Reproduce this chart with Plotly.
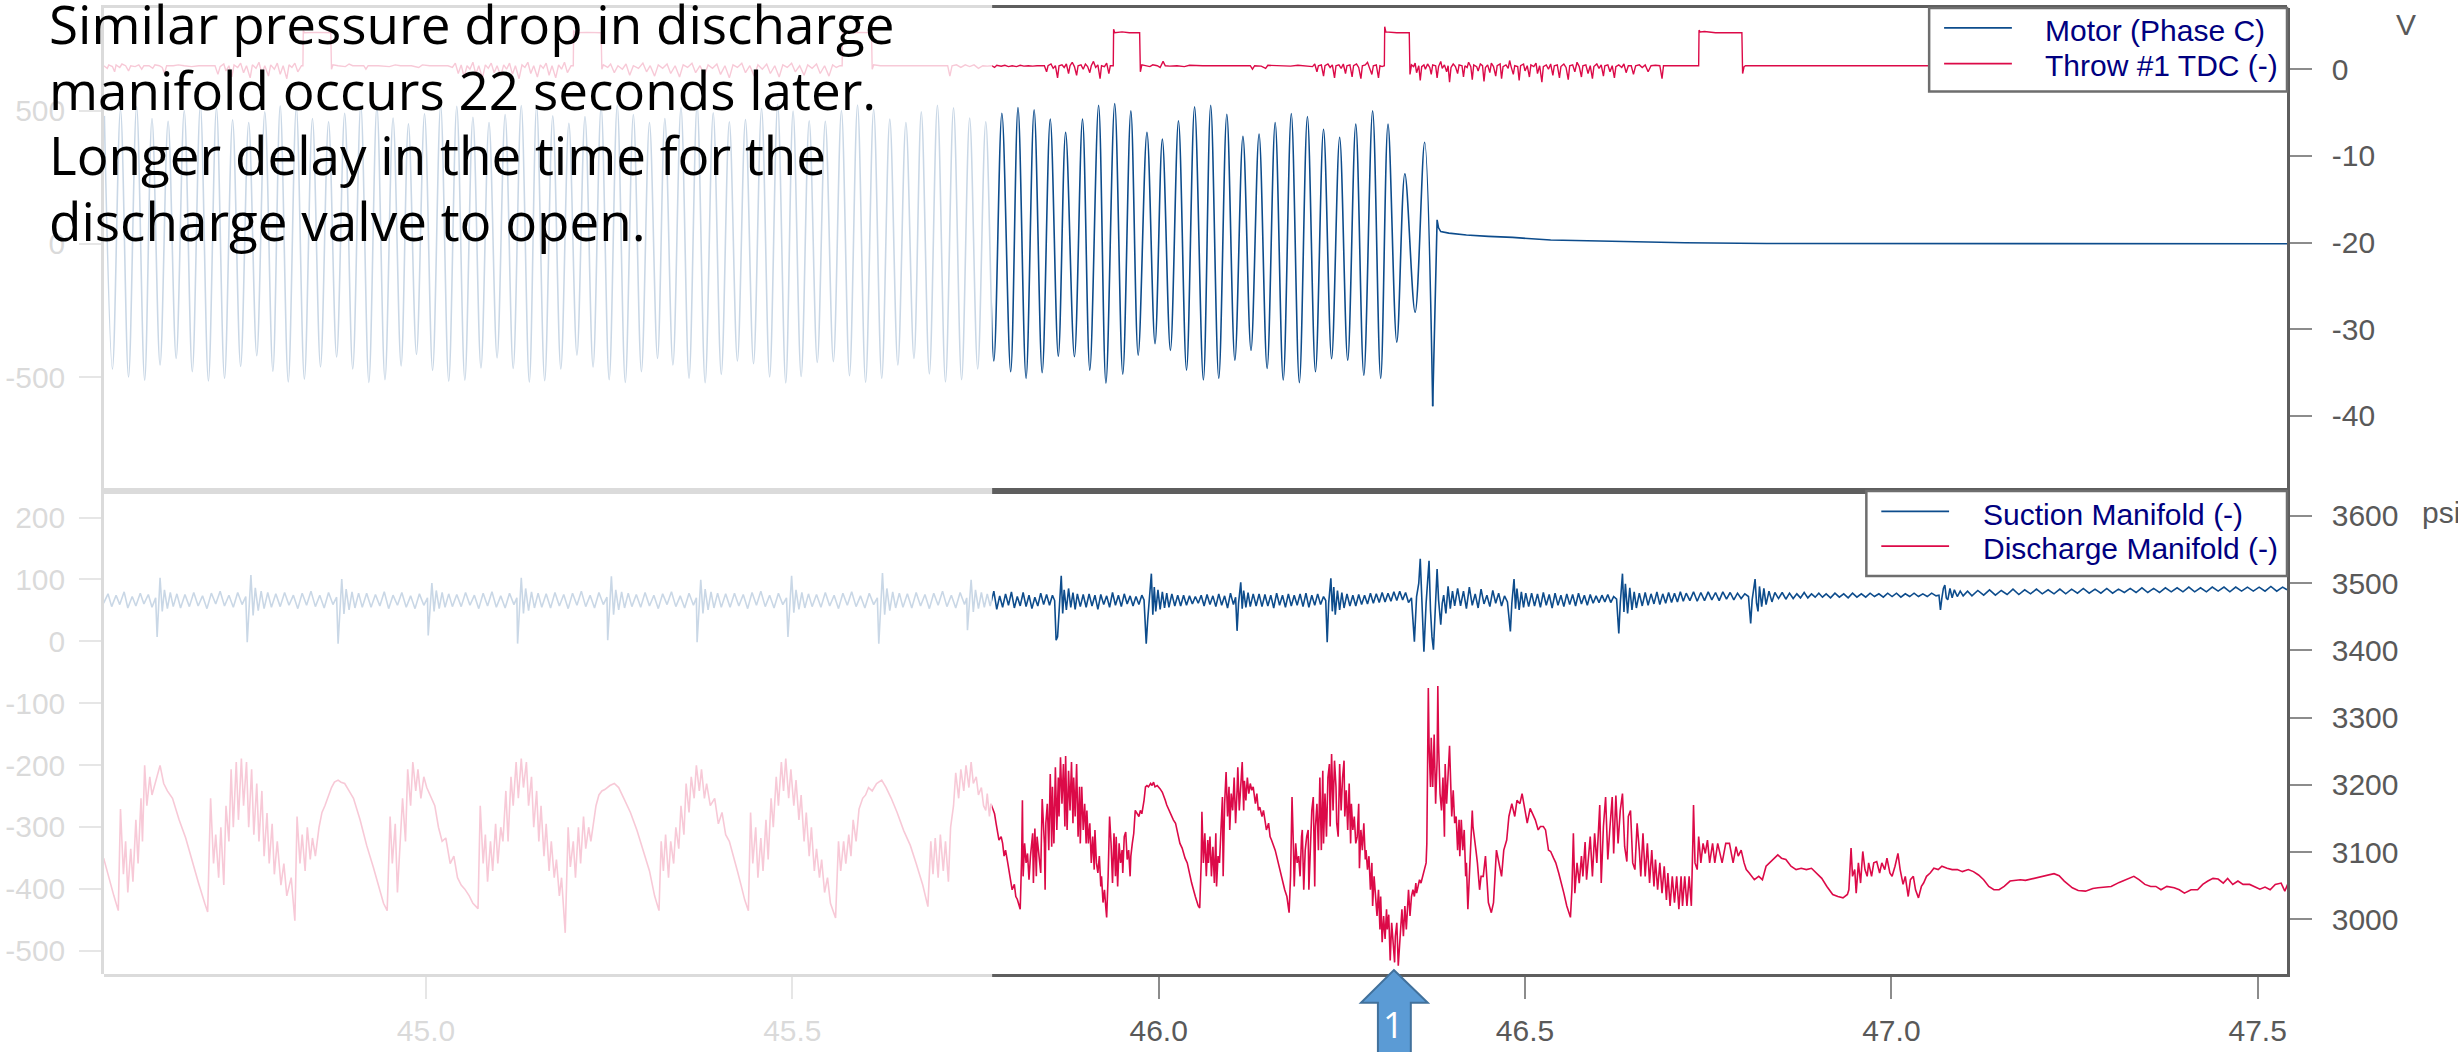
import plotly.graph_objects as go

# ------------------------------------------------------------------ data
x_tick_vals = [45.0, 45.5, 46.0, 46.5, 47.0, 47.5]
x_tick_text = ["45.0", "45.5", "46.0", "46.5", "47.0", "47.5"]
motor_tick_vals = [500, 0, -500]
volt_tick_vals = [0, -10, -20, -30, -40]
left_p_tick_vals = [200, 100, 0, -100, -200, -300, -400, -500]
psi_tick_vals = [3600, 3500, 3400, 3300, 3200, 3100, 3000]

series_names = ["Motor (Phase C)", "Throw #1 TDC (-)", "Suction Manifold (-)", "Discharge Manifold (-)"]

note_lines = ["Similar pressure drop in discharge",
              "manifold occurs 22 seconds later.",
              "Longer delay in the time for the",
              "discharge valve to open."]

# Motor (Phase C): oscillation extrema (time s, value)
motor_peaks = [
    (44.561, 480), (44.583, 505), (44.605, 515), (44.626, 470), (44.648, 460), (44.670, 500),
    (44.692, 520), (44.714, 510), (44.736, 465), (44.758, 455), (44.780, 495), (44.801, 518),
    (44.823, 512), (44.845, 470), (44.867, 458), (44.889, 490), (44.911, 522), (44.933, 515),
    (44.955, 472), (44.976, 450), (44.998, 488), (45.020, 520), (45.042, 516), (45.064, 475),
    (45.086, 455), (45.108, 485), (45.130, 519), (45.151, 518), (45.173, 480), (45.195, 452),
    (45.217, 478), (45.239, 515), (45.261, 520), (45.283, 485), (45.305, 455), (45.326, 470),
    (45.348, 512), (45.370, 522), (45.392, 492), (45.414, 458), (45.436, 466), (45.458, 508),
    (45.480, 523), (45.501, 498), (45.523, 462), (45.545, 460), (45.567, 500), (45.589, 521),
    (45.611, 505), (45.633, 468), (45.655, 455), (45.676, 495), (45.698, 520), (45.720, 510),
    (45.742, 472), (45.764, 458), (45.786, 490),
    (45.808, 511), (45.830, 503), (45.852, 468), (45.873, 418), (45.896, 468), (45.918, 520),
    (45.940, 526), (45.962, 499), (45.984, 418), (46.005, 393), (46.027, 462), (46.049, 514),
    (46.071, 520), (46.093, 486), (46.115, 403), (46.137, 412), (46.159, 455), (46.181, 489),
    (46.203, 478), (46.225, 430), (46.247, 400), (46.269, 449), (46.292, 499), (46.313, 449),
    (46.336, 263), (46.363, 381)]
motor_troughs = [
    (44.572, -470), (44.594, -500), (44.616, -512), (44.637, -455), (44.659, -430), (44.681, -480),
    (44.703, -515), (44.725, -505), (44.747, -460), (44.769, -420), (44.791, -478), (44.812, -518),
    (44.834, -508), (44.856, -462), (44.878, -425), (44.900, -470), (44.922, -520), (44.944, -510),
    (44.966, -458), (44.987, -415), (45.009, -475), (45.031, -516), (45.053, -512), (45.075, -466),
    (45.097, -428), (45.119, -468), (45.141, -519), (45.162, -514), (45.184, -470), (45.206, -418),
    (45.228, -462), (45.250, -510), (45.272, -520), (45.294, -480), (45.316, -430), (45.337, -455),
    (45.359, -505), (45.381, -521), (45.403, -490), (45.425, -440), (45.447, -450), (45.469, -500),
    (45.491, -522), (45.512, -498), (45.534, -445), (45.556, -442), (45.578, -495), (45.600, -520),
    (45.622, -505), (45.644, -455), (45.666, -430), (45.687, -488), (45.709, -518), (45.731, -510),
    (45.753, -470), (45.775, -440),
    (45.798, -480), (45.819, -505), (45.841, -484), (45.863, -422), (45.885, -424), (45.906, -474),
    (45.928, -523), (45.951, -489), (45.972, -418), (45.995, -375), (46.016, -400), (46.038, -474),
    (46.061, -511), (46.082, -505), (46.104, -437), (46.126, -400), (46.148, -468), (46.170, -511),
    (46.192, -521), (46.214, -480), (46.236, -431), (46.258, -437), (46.280, -493), (46.303, -505),
    (46.325, -369), (46.350, -257), (46.374, -610)]
motor_tail = [
    (46.374, -610), (46.380, 90), (46.382, 60), (46.385, 46), (46.396, 40), (46.420, 33),
    (46.450, 28), (46.483, 24), (46.535, 14), (46.613, 9), (46.718, 4), (46.830, 1),
    (47.000, 0.5), (47.540, 0)]

# Throw #1 TDC (V)
tdc_pts = [
    (44.560, 0.4), (44.565, 0.1), (44.567, 0.5), (44.572, 0.3), (44.575, -0.3), (44.577, 0.5),
    (44.582, 0.2), (44.585, 0.6), (44.590, 0.4), (44.594, -0.2), (44.597, 0.4), (44.603, 0.3),
    (44.608, 0.5), (44.612, 0.0), (44.615, 0.4), (44.622, 0.4), (44.627, 0.1), (44.630, 0.5),
    (44.636, 0.4), (44.640, 0.2), (44.643, -0.5), (44.646, 0.4), (44.655, 0.4), (44.662, 0.5),
    (44.670, 0.4), (44.680, 0.3), (44.690, 0.4), (44.700, 0.4), (44.712, 0.4), (44.716, -0.6),
    (44.719, 0.3), (44.724, 0.6), (44.727, -0.2), (44.731, 0.4), (44.735, -0.9), (44.738, 0.5),
    (44.743, 0.2), (44.747, 0.7), (44.751, -0.4), (44.755, 0.4), (44.760, -1.0), (44.763, 0.5),
    (44.768, 0.1), (44.772, 0.8), (44.776, -0.5), (44.780, 0.4), (44.785, -0.8), (44.788, 0.5),
    (44.793, 0.0), (44.797, 0.7), (44.801, -0.6), (44.805, 0.4), (44.810, -1.1), (44.813, 0.5),
    (44.817, 0.2), (44.821, 0.7), (44.825, -0.3), (44.830, 0.4),
    (44.832, 0.4), (44.8325, 4.5), (44.834, 4.2), (44.850, 4.25), (44.870, 4.2), (44.871, 0.0),
    (44.873, 0.5), (44.880, 0.4), (44.890, 0.3), (44.895, 0.6), (44.900, 0.4), (44.915, 0.4),
    (44.918, 0.0), (44.921, 0.4), (44.935, 0.4), (44.950, 0.3), (44.958, 0.5), (44.965, 0.4),
    (44.980, 0.4), (44.990, 0.2), (44.995, 0.5), (45.005, 0.4), (45.020, 0.4), (45.030, 0.4),
    (45.036, 0.2), (45.040, 0.7), (45.044, -0.5), (45.048, 0.5), (45.052, -0.9), (45.056, 0.4),
    (45.060, 0.0), (45.064, 0.8), (45.068, -0.6), (45.072, 0.4), (45.077, -1.0), (45.081, 0.5),
    (45.085, 0.1), (45.089, 0.7), (45.093, -0.4), (45.097, 0.4), (45.102, -0.8), (45.106, 0.5),
    (45.110, 0.0), (45.114, 0.7), (45.118, -0.6), (45.122, 0.4), (45.127, -1.1), (45.131, 0.5),
    (45.135, 0.2), (45.139, 0.8), (45.143, -0.5), (45.147, 0.4), (45.152, -0.9), (45.156, 0.5),
    (45.160, 0.1), (45.164, 0.7), (45.168, -0.7), (45.172, 0.4), (45.177, -1.0), (45.181, 0.5),
    (45.185, 0.0), (45.189, 0.8), (45.193, -0.4), (45.198, 0.4),
    (45.201, 0.4), (45.2015, 4.5), (45.203, 4.2), (45.220, 4.25), (45.239, 4.2), (45.240, 0.0),
    (45.242, 0.5), (45.248, 0.2), (45.252, 0.6), (45.257, -0.4), (45.262, 0.4), (45.268, 0.0),
    (45.273, 0.6), (45.278, -0.7), (45.283, 0.4), (45.290, 0.1), (45.296, 0.7), (45.301, -0.3),
    (45.306, 0.4), (45.312, -0.8), (45.317, 0.5), (45.323, 0.1), (45.329, 0.6), (45.334, -0.5),
    (45.340, 0.4), (45.346, -0.9), (45.351, 0.5), (45.357, 0.2), (45.363, 0.7), (45.368, -0.4),
    (45.374, 0.4), (45.380, -0.7), (45.385, 0.5), (45.391, 0.1), (45.397, 0.6), (45.402, -0.6),
    (45.408, 0.4), (45.414, -1.0), (45.419, 0.5), (45.425, 0.2), (45.431, 0.7), (45.436, -0.4),
    (45.442, 0.4), (45.448, -0.8), (45.453, 0.5), (45.459, 0.0), (45.465, 0.6), (45.470, -0.5),
    (45.476, 0.4), (45.482, -0.9), (45.487, 0.5), (45.493, 0.2), (45.499, 0.7), (45.504, -0.3),
    (45.510, 0.4), (45.516, -0.7), (45.521, 0.5), (45.527, 0.1), (45.533, 0.6), (45.538, -0.5),
    (45.544, 0.4), (45.550, -0.8), (45.555, 0.5), (45.560, 0.2), (45.565, 0.4),
    (45.568, 0.4), (45.5685, 4.5), (45.570, 4.2), (45.590, 4.25), (45.608, 4.2), (45.609, 0.0),
    (45.611, 0.5), (45.620, 0.4), (45.650, 0.4), (45.680, 0.4), (45.712, 0.4), (45.715, -0.8),
    (45.718, 0.4), (45.724, 0.5), (45.730, 0.2), (45.736, 0.5), (45.742, 0.3), (45.748, 0.5),
    (45.754, 0.1), (45.760, 0.4),
    (45.766, 0.35), (45.772, 0.4), (45.776, 0.2), (45.779, 0.45), (45.785, 0.35), (45.790, 0.45),
    (45.795, 0.3), (45.800, 0.4), (45.806, 0.3), (45.811, 0.45), (45.816, 0.35), (45.822, 0.4),
    (45.828, 0.35), (45.834, 0.4), (45.840, 0.35),
    (45.844, 0.4), (45.847, -0.3), (45.849, 0.4), (45.853, 0.6), (45.856, 0.1), (45.859, 0.4),
    (45.862, -1.0), (45.864, 0.4), (45.868, 0.5), (45.871, 0.2), (45.874, 0.6), (45.877, -0.5),
    (45.879, 0.4), (45.882, 0.8), (45.885, 0.3), (45.888, -0.7), (45.890, 0.4), (45.894, 0.5),
    (45.897, 0.0), (45.900, 0.6), (45.903, 0.3), (45.906, -0.4), (45.908, 0.4), (45.911, 0.9),
    (45.914, 0.2), (45.917, 0.5), (45.920, -1.1), (45.922, 0.4), (45.926, 0.3), (45.929, 0.7),
    (45.932, -0.5), (45.934, 0.4),
    (45.938, 0.4), (45.9385, 4.6), (45.940, 4.2), (45.950, 4.3), (45.960, 4.2), (45.974, 4.2),
    (45.975, -0.3), (45.977, 0.5),
    (45.982, 0.4), (45.988, 0.3), (45.992, 0.5), (45.998, 0.4), (46.002, 0.2), (46.006, 0.9),
    (46.009, 0.4), (46.015, 0.35), (46.025, 0.4), (46.035, 0.3), (46.042, 0.45), (46.050, 0.4),
    (46.060, 0.4), (46.070, 0.4), (46.080, 0.4), (46.095, 0.4), (46.110, 0.4), (46.125, 0.4),
    (46.128, 0.0), (46.131, 0.4), (46.140, 0.35), (46.146, 0.1), (46.149, 0.45), (46.160, 0.4),
    (46.170, 0.4), (46.180, 0.35), (46.190, 0.45), (46.200, 0.4), (46.206, 0.4),
    (46.210, 0.3), (46.213, 0.6), (46.216, -0.3), (46.218, 0.4), (46.222, 0.5), (46.225, -0.8),
    (46.227, 0.4), (46.231, 0.6), (46.234, 0.2), (46.237, 0.5), (46.240, -1.0), (46.242, 0.4),
    (46.246, 0.5), (46.249, 0.1), (46.252, 0.6), (46.255, -0.5), (46.257, 0.4), (46.261, 0.5),
    (46.264, -0.9), (46.266, 0.4), (46.270, 0.6), (46.273, 0.2), (46.276, -1.1), (46.278, 0.4),
    (46.282, 0.5), (46.285, 0.8), (46.288, 0.2), (46.291, -0.6), (46.293, 0.4), (46.297, 0.5),
    (46.300, -1.0), (46.302, 0.4), (46.305, 0.3),
    (46.308, 0.4), (46.3085, 4.9), (46.310, 4.3), (46.325, 4.2), (46.342, 4.2), (46.343, -0.6),
    (46.345, 0.5),
    (46.348, 0.3), (46.350, 0.7), (46.352, -0.4), (46.355, 0.4), (46.357, -1.3), (46.359, 0.3),
    (46.362, 0.5), (46.364, 0.0), (46.367, 0.6), (46.370, 0.2), (46.372, -0.6), (46.374, 0.5),
    (46.378, 0.4), (46.380, -1.0), (46.382, 0.3), (46.385, 0.9), (46.387, 0.1), (46.390, 0.5),
    (46.393, -0.3), (46.395, 0.4), (46.397, -1.5), (46.399, 0.2), (46.402, 0.6), (46.405, 0.3),
    (46.408, -0.5), (46.410, 0.5), (46.414, 0.4), (46.416, -0.9), (46.418, 0.4), (46.421, 0.2),
    (46.423, 0.8), (46.426, 0.3), (46.428, -1.2), (46.430, 0.5), (46.434, 0.3), (46.436, -0.2),
    (46.439, 0.6), (46.442, 0.4), (46.444, -1.4), (46.446, 0.2), (46.449, 0.5), (46.452, -0.4),
    (46.454, 0.7), (46.457, 0.3), (46.460, -0.8), (46.462, 0.4), (46.466, 0.6), (46.468, -1.1),
    (46.470, 0.3), (46.474, 0.5), (46.477, 0.1), (46.479, 1.0), (46.481, 0.3), (46.484, -0.6),
    (46.486, 0.4), (46.490, 0.3), (46.492, -1.3), (46.494, 0.4), (46.498, 0.6), (46.500, -0.2),
    (46.503, 0.4), (46.506, -0.9), (46.508, 0.5), (46.512, 0.3), (46.515, 0.7), (46.517, -0.5),
    (46.520, 0.4), (46.523, -1.5), (46.525, 0.3), (46.529, 0.5), (46.532, 0.0), (46.535, 0.6),
    (46.538, -0.7), (46.540, 0.4), (46.544, 0.5), (46.547, -1.0), (46.549, 0.3), (46.553, 0.6),
    (46.556, 0.2), (46.559, -1.2), (46.561, 0.4), (46.565, 0.5), (46.568, -0.3), (46.571, 0.8),
    (46.574, 0.3), (46.577, -0.9), (46.579, 0.4), (46.583, 0.5), (46.586, -0.5), (46.589, 0.4),
    (46.592, -1.1), (46.594, 0.3), (46.598, 0.6), (46.601, 0.1), (46.604, 0.5), (46.607, -0.8),
    (46.609, 0.4), (46.613, 0.5), (46.616, -0.3), (46.619, 0.4), (46.622, -1.0), (46.624, 0.3),
    (46.628, 0.5), (46.632, 0.2), (46.635, 0.6), (46.638, -0.4), (46.641, 0.4), (46.645, 0.4),
    (46.648, -0.6), (46.651, 0.4), (46.656, 0.5), (46.660, 0.2), (46.664, 0.5), (46.668, -0.3),
    (46.672, 0.4), (46.678, 0.45), (46.684, 0.4), (46.687, -1.1), (46.689, 0.4),
    (46.700, 0.4), (46.720, 0.4), (46.736, 0.4),
    (46.737, 0.4), (46.7375, 4.5), (46.739, 4.3), (46.745, 4.35), (46.760, 4.2), (46.780, 4.2),
    (46.796, 4.2), (46.797, -0.5), (46.799, 0.3), (46.801, 0.4),
    (46.900, 0.4), (47.100, 0.4), (47.300, 0.4), (47.540, 0.4)]

# Suction Manifold (psi)
suction_pts = [
    (44.560, 3470), (44.566, 3484), (44.571, 3465), (44.577, 3482), (44.582, 3468), (44.588, 3487),
    (44.593, 3463), (44.599, 3480), (44.604, 3466), (44.610, 3485), (44.615, 3469), (44.621, 3483),
    (44.626, 3464), (44.631, 3478),
    (44.633, 3420), (44.635, 3468), (44.637, 3508), (44.640, 3458), (44.643, 3490), (44.647, 3462),
    (44.651, 3486), (44.655, 3465), (44.660, 3484), (44.665, 3463),
    (44.671, 3483), (44.677, 3465), (44.683, 3486), (44.689, 3466), (44.695, 3481), (44.701, 3462),
    (44.707, 3485), (44.713, 3469), (44.719, 3488), (44.725, 3466), (44.731, 3482), (44.737, 3464),
    (44.743, 3486), (44.749, 3468), (44.754, 3480),
    (44.756, 3412), (44.759, 3475), (44.761, 3512), (44.764, 3452), (44.767, 3493), (44.771, 3459),
    (44.775, 3488), (44.779, 3462), (44.784, 3486), (44.789, 3464),
    (44.795, 3484), (44.801, 3465), (44.807, 3486), (44.813, 3467), (44.819, 3482), (44.825, 3462),
    (44.831, 3485), (44.837, 3467), (44.843, 3488), (44.849, 3465), (44.855, 3482), (44.861, 3463),
    (44.867, 3486), (44.873, 3468), (44.878, 3479),
    (44.880, 3410), (44.883, 3478), (44.885, 3506), (44.888, 3454), (44.891, 3491), (44.895, 3460),
    (44.899, 3487), (44.903, 3463), (44.908, 3485), (44.913, 3464),
    (44.919, 3485), (44.925, 3464), (44.931, 3483), (44.937, 3466), (44.943, 3487), (44.949, 3462),
    (44.955, 3482), (44.961, 3467), (44.967, 3486), (44.973, 3464), (44.979, 3481), (44.985, 3462),
    (44.991, 3484), (44.997, 3467), (45.002, 3478),
    (45.003, 3422), (45.006, 3474), (45.008, 3500), (45.011, 3458), (45.014, 3489), (45.018, 3462),
    (45.022, 3486), (45.026, 3464), (45.031, 3484), (45.036, 3465),
    (45.042, 3483), (45.048, 3465), (45.054, 3486), (45.060, 3467), (45.066, 3482), (45.072, 3462),
    (45.078, 3485), (45.084, 3466), (45.090, 3487), (45.096, 3464), (45.102, 3481), (45.108, 3463),
    (45.114, 3485), (45.120, 3468), (45.124, 3478),
    (45.125, 3410), (45.128, 3476), (45.130, 3508), (45.133, 3455), (45.136, 3492), (45.140, 3459),
    (45.144, 3487), (45.148, 3463), (45.153, 3485), (45.158, 3464),
    (45.164, 3484), (45.170, 3463), (45.176, 3486), (45.182, 3466), (45.188, 3483), (45.194, 3462),
    (45.200, 3485), (45.206, 3467), (45.212, 3488), (45.218, 3465), (45.224, 3482), (45.230, 3463),
    (45.236, 3486), (45.242, 3468), (45.247, 3479),
    (45.248, 3415), (45.251, 3474), (45.253, 3510), (45.256, 3453), (45.259, 3490), (45.263, 3460),
    (45.267, 3487), (45.271, 3463), (45.276, 3485), (45.281, 3465),
    (45.287, 3483), (45.293, 3464), (45.299, 3486), (45.305, 3466), (45.311, 3482), (45.317, 3462),
    (45.323, 3484), (45.329, 3468), (45.335, 3487), (45.341, 3465), (45.347, 3481), (45.353, 3463),
    (45.359, 3485), (45.365, 3467), (45.369, 3478),
    (45.370, 3412), (45.373, 3475), (45.375, 3505), (45.378, 3455), (45.381, 3491), (45.385, 3460),
    (45.389, 3487), (45.393, 3463), (45.398, 3485), (45.403, 3464),
    (45.409, 3484), (45.415, 3464), (45.421, 3485), (45.427, 3466), (45.433, 3483), (45.439, 3462),
    (45.445, 3486), (45.451, 3467), (45.457, 3488), (45.463, 3465), (45.469, 3482), (45.475, 3463),
    (45.481, 3485), (45.487, 3468), (45.492, 3478),
    (45.494, 3420), (45.497, 3476), (45.499, 3511), (45.502, 3456), (45.505, 3490), (45.509, 3461),
    (45.513, 3486), (45.517, 3463), (45.522, 3484), (45.527, 3465),
    (45.533, 3483), (45.539, 3464), (45.545, 3486), (45.551, 3466), (45.557, 3482), (45.563, 3462),
    (45.569, 3485), (45.575, 3467), (45.581, 3487), (45.587, 3465), (45.593, 3481), (45.599, 3463),
    (45.605, 3485), (45.611, 3468), (45.616, 3478),
    (45.618, 3410), (45.621, 3476), (45.623, 3515), (45.626, 3453), (45.629, 3492), (45.633, 3459),
    (45.637, 3487), (45.641, 3463), (45.646, 3485), (45.651, 3464),
    (45.657, 3484), (45.663, 3463), (45.669, 3486), (45.675, 3466), (45.681, 3483), (45.687, 3462),
    (45.693, 3485), (45.699, 3467), (45.705, 3488), (45.711, 3465), (45.717, 3482), (45.723, 3463),
    (45.729, 3486), (45.735, 3468), (45.738, 3478),
    (45.739, 3430), (45.742, 3476), (45.744, 3505), (45.747, 3457), (45.750, 3490), (45.754, 3462),
    (45.758, 3486), (45.762, 3464), (45.766, 3484), (45.770, 3466),
    (45.775, 3488), (45.779, 3461), (45.783, 3481), (45.787, 3464), (45.791, 3484), (45.795, 3467),
    (45.799, 3487), (45.803, 3463), (45.807, 3480), (45.811, 3466), (45.815, 3486), (45.819, 3465),
    (45.823, 3482), (45.827, 3462), (45.831, 3479), (45.835, 3466), (45.839, 3485), (45.843, 3468),
    (45.847, 3483), (45.851, 3467), (45.855, 3482), (45.858, 3474),
    (45.860, 3415), (45.862, 3420), (45.865, 3478), (45.867, 3511), (45.869, 3455), (45.871, 3490),
    (45.874, 3460), (45.877, 3492), (45.880, 3464), (45.883, 3486), (45.886, 3461), (45.889, 3484),
    (45.893, 3465), (45.897, 3483),
    (45.901, 3464), (45.905, 3484), (45.909, 3466), (45.913, 3482), (45.917, 3461), (45.921, 3483),
    (45.925, 3468), (45.929, 3481), (45.933, 3464), (45.937, 3486), (45.941, 3467), (45.945, 3482),
    (45.949, 3465), (45.953, 3484), (45.957, 3469), (45.961, 3481), (45.965, 3466), (45.969, 3480),
    (45.973, 3468), (45.977, 3482), (45.980, 3475),
    (45.982, 3430), (45.983, 3410), (45.985, 3445), (45.988, 3480), (45.990, 3514), (45.992, 3453),
    (45.994, 3494), (45.996, 3458), (45.999, 3490), (46.002, 3461), (46.005, 3487), (46.008, 3463),
    (46.011, 3485), (46.014, 3464), (46.018, 3484), (46.022, 3466), (46.026, 3482),
    (46.030, 3466), (46.034, 3482), (46.038, 3467), (46.042, 3481), (46.046, 3469), (46.050, 3480),
    (46.054, 3470), (46.058, 3482), (46.062, 3466), (46.066, 3483), (46.070, 3468), (46.074, 3481),
    (46.078, 3465), (46.082, 3484), (46.086, 3467), (46.090, 3481), (46.094, 3463), (46.098, 3485),
    (46.102, 3468), (46.105, 3479),
    (46.107, 3429), (46.109, 3470), (46.112, 3501), (46.114, 3462), (46.116, 3489), (46.119, 3464),
    (46.122, 3486), (46.125, 3465), (46.129, 3484), (46.133, 3466),
    (46.137, 3484), (46.141, 3465), (46.145, 3483), (46.149, 3466), (46.153, 3482), (46.157, 3463),
    (46.161, 3485), (46.165, 3467), (46.169, 3482), (46.173, 3464), (46.177, 3484), (46.181, 3466),
    (46.185, 3482), (46.189, 3467), (46.193, 3484), (46.197, 3465), (46.201, 3485), (46.205, 3464),
    (46.209, 3482), (46.213, 3467), (46.217, 3484), (46.221, 3468), (46.225, 3480), (46.228, 3474),
    (46.230, 3412), (46.232, 3470), (46.235, 3507), (46.237, 3458), (46.239, 3494), (46.241, 3453),
    (46.244, 3489), (46.247, 3460), (46.250, 3486), (46.253, 3463), (46.257, 3484), (46.261, 3466),
    (46.265, 3482),
    (46.269, 3466), (46.273, 3483), (46.277, 3468), (46.281, 3482), (46.285, 3469), (46.289, 3485),
    (46.293, 3470), (46.297, 3484), (46.301, 3471), (46.305, 3486), (46.309, 3472), (46.313, 3485),
    (46.317, 3473), (46.321, 3487), (46.325, 3474), (46.329, 3488), (46.333, 3475), (46.337, 3486),
    (46.341, 3471), (46.345, 3478),
    (46.349, 3413), (46.352, 3480), (46.355, 3500), (46.357, 3536), (46.359, 3470), (46.362, 3398),
    (46.365, 3470), (46.367, 3510), (46.369, 3533), (46.371, 3460), (46.373, 3420), (46.375, 3401),
    (46.378, 3470), (46.380, 3521), (46.382, 3475), (46.385, 3438), (46.387, 3470), (46.389, 3482),
    (46.392, 3455), (46.395, 3495), (46.398, 3462), (46.401, 3488), (46.404, 3466),
    (46.408, 3492), (46.412, 3466), (46.416, 3488), (46.420, 3462), (46.424, 3494), (46.428, 3467),
    (46.432, 3484), (46.436, 3463), (46.440, 3491), (46.444, 3469), (46.448, 3482), (46.452, 3465),
    (46.456, 3489), (46.460, 3470), (46.464, 3485), (46.468, 3466), (46.472, 3481), (46.476, 3472),
    (46.480, 3428), (46.482, 3470), (46.485, 3506), (46.487, 3462), (46.489, 3492), (46.492, 3460),
    (46.495, 3487), (46.498, 3464), (46.501, 3485), (46.505, 3465),
    (46.509, 3485), (46.513, 3466), (46.517, 3484), (46.521, 3464), (46.525, 3486), (46.529, 3467),
    (46.533, 3483), (46.537, 3463), (46.541, 3485), (46.545, 3467), (46.549, 3482), (46.553, 3465),
    (46.557, 3484), (46.561, 3468), (46.565, 3483), (46.569, 3466), (46.573, 3485), (46.577, 3469),
    (46.581, 3482), (46.585, 3467), (46.589, 3483), (46.593, 3470), (46.597, 3481), (46.601, 3471),
    (46.605, 3482), (46.609, 3472), (46.613, 3483), (46.617, 3471), (46.621, 3480), (46.625, 3476),
    (46.628, 3425), (46.630, 3470), (46.633, 3514), (46.635, 3457), (46.637, 3499), (46.640, 3455),
    (46.643, 3493), (46.646, 3460), (46.649, 3487), (46.652, 3463), (46.656, 3485), (46.660, 3466),
    (46.664, 3486), (46.668, 3467), (46.672, 3484), (46.676, 3469), (46.680, 3487), (46.684, 3468),
    (46.688, 3484), (46.692, 3470), (46.696, 3486), (46.700, 3471), (46.704, 3485), (46.708, 3472),
    (46.712, 3487), (46.716, 3473), (46.720, 3485), (46.725, 3474), (46.730, 3487), (46.735, 3473),
    (46.740, 3486), (46.745, 3474), (46.750, 3487), (46.755, 3475), (46.760, 3486), (46.765, 3474),
    (46.770, 3487), (46.775, 3476), (46.780, 3486), (46.785, 3475), (46.790, 3485), (46.795, 3477),
    (46.800, 3484), (46.805, 3480),
    (46.808, 3440), (46.810, 3475), (46.812, 3495), (46.814, 3506), (46.816, 3470), (46.818, 3458),
    (46.820, 3495), (46.823, 3465), (46.826, 3492), (46.829, 3468), (46.833, 3488), (46.837, 3472),
    (46.841, 3486),
    (46.846, 3477), (46.851, 3486), (46.856, 3476), (46.861, 3485), (46.866, 3477), (46.871, 3484),
    (46.876, 3478), (46.881, 3486), (46.886, 3478), (46.891, 3484), (46.896, 3479), (46.901, 3485),
    (46.906, 3479), (46.911, 3484), (46.917, 3478), (46.923, 3485), (46.929, 3479), (46.935, 3484),
    (46.941, 3478), (46.947, 3485), (46.953, 3479), (46.959, 3484), (46.965, 3479), (46.971, 3485),
    (46.977, 3480), (46.983, 3484), (46.989, 3479), (46.995, 3485), (47.001, 3480), (47.007, 3485),
    (47.013, 3479), (47.019, 3484), (47.025, 3480), (47.031, 3485), (47.037, 3480), (47.043, 3484),
    (47.049, 3480), (47.055, 3485), (47.061, 3481), (47.065, 3482),
    (47.067, 3460), (47.069, 3478), (47.071, 3492), (47.073, 3497), (47.075, 3478), (47.077, 3475),
    (47.080, 3492), (47.083, 3478), (47.086, 3490), (47.090, 3480), (47.094, 3488), (47.098, 3481),
    (47.104, 3488), (47.110, 3481), (47.118, 3489), (47.126, 3482), (47.134, 3490), (47.142, 3482),
    (47.150, 3489), (47.158, 3483), (47.166, 3491), (47.174, 3483), (47.182, 3490), (47.190, 3484),
    (47.198, 3491), (47.206, 3484), (47.214, 3490), (47.222, 3484), (47.230, 3491), (47.238, 3484),
    (47.246, 3491), (47.254, 3485), (47.262, 3492), (47.270, 3485), (47.278, 3491), (47.286, 3485),
    (47.294, 3492), (47.302, 3485), (47.310, 3491), (47.318, 3486), (47.326, 3492), (47.334, 3486),
    (47.342, 3493), (47.350, 3486), (47.358, 3492), (47.366, 3486), (47.374, 3493), (47.382, 3487),
    (47.390, 3493), (47.398, 3487), (47.406, 3494), (47.414, 3487), (47.422, 3493), (47.430, 3487),
    (47.438, 3494), (47.446, 3488), (47.454, 3494), (47.462, 3487), (47.470, 3494), (47.478, 3488),
    (47.486, 3494), (47.494, 3488), (47.502, 3494), (47.510, 3488), (47.518, 3495), (47.526, 3488),
    (47.534, 3494), (47.540, 3490)]

# Discharge Manifold (psi)
discharge_pts = [
    (44.560, 3091), (44.567, 3062), (44.574, 3035), (44.580, 3013), (44.583, 3164), (44.587, 3067),
    (44.590, 3116), (44.593, 3040), (44.597, 3105), (44.600, 3056), (44.604, 3148), (44.607, 3083),
    (44.611, 3180), (44.613, 3116), (44.616, 3229), (44.619, 3169), (44.623, 3212), (44.626, 3185),
    (44.632, 3207), (44.637, 3229), (44.642, 3202), (44.647, 3191), (44.654, 3180), (44.663, 3148),
    (44.672, 3121), (44.680, 3089), (44.689, 3056), (44.698, 3024), (44.702, 3011), (44.706, 3180),
    (44.710, 3083), (44.713, 3126), (44.717, 3062), (44.720, 3137), (44.724, 3051), (44.727, 3169),
    (44.731, 3116), (44.734, 3223), (44.737, 3137), (44.741, 3234), (44.744, 3148), (44.748, 3239),
    (44.751, 3169), (44.755, 3234), (44.758, 3137), (44.762, 3223), (44.765, 3126), (44.769, 3202),
    (44.772, 3116), (44.776, 3191), (44.779, 3094), (44.783, 3158), (44.786, 3083), (44.790, 3142),
    (44.793, 3067), (44.797, 3116), (44.802, 3051), (44.806, 3083), (44.810, 3035), (44.816, 3062),
    (44.821, 2998), (44.824, 3153), (44.828, 3083), (44.831, 3126), (44.835, 3072), (44.838, 3137),
    (44.842, 3089), (44.845, 3121), (44.849, 3094), (44.854, 3137), (44.858, 3159), (44.862, 3169),
    (44.867, 3185), (44.871, 3196), (44.875, 3204), (44.880, 3207), (44.884, 3204), (44.889, 3202),
    (44.895, 3191), (44.901, 3180), (44.910, 3148), (44.919, 3110), (44.928, 3078), (44.936, 3045),
    (44.942, 3024), (44.947, 3013), (44.951, 3153), (44.954, 3083), (44.958, 3142), (44.961, 3040),
    (44.965, 3116), (44.968, 3180), (44.972, 3116), (44.975, 3223), (44.979, 3169), (44.982, 3234),
    (44.986, 3191), (44.989, 3223), (44.993, 3180), (44.997, 3212), (45.001, 3196), (45.007, 3180),
    (45.012, 3169), (45.017, 3137), (45.022, 3116), (45.027, 3121), (45.033, 3083), (45.038, 3094),
    (45.043, 3062), (45.048, 3051), (45.053, 3045), (45.059, 3035), (45.064, 3024), (45.071, 3016),
    (45.074, 3169), (45.078, 3083), (45.081, 3126), (45.084, 3056), (45.088, 3116), (45.091, 3072),
    (45.095, 3142), (45.098, 3083), (45.102, 3137), (45.105, 3116), (45.109, 3191), (45.112, 3116),
    (45.116, 3212), (45.119, 3169), (45.123, 3234), (45.126, 3180), (45.130, 3239), (45.133, 3196),
    (45.137, 3234), (45.140, 3169), (45.144, 3212), (45.147, 3137), (45.151, 3191), (45.154, 3116),
    (45.157, 3169), (45.161, 3094), (45.164, 3142), (45.168, 3072), (45.171, 3116), (45.175, 3062),
    (45.178, 3089), (45.182, 3035), (45.185, 3062), (45.190, 2980), (45.194, 3137), (45.197, 3078),
    (45.201, 3116), (45.204, 3062), (45.208, 3137), (45.211, 3083), (45.215, 3153), (45.218, 3105),
    (45.222, 3137), (45.225, 3116), (45.229, 3148), (45.232, 3169), (45.236, 3185), (45.240, 3191),
    (45.244, 3193), (45.251, 3199), (45.257, 3202), (45.263, 3196), (45.270, 3180), (45.279, 3159),
    (45.288, 3132), (45.296, 3105), (45.305, 3072), (45.312, 3035), (45.318, 3013), (45.321, 3116),
    (45.324, 3072), (45.327, 3126), (45.331, 3062), (45.334, 3116), (45.338, 3083), (45.341, 3137),
    (45.345, 3105), (45.348, 3169), (45.352, 3126), (45.355, 3202), (45.359, 3159), (45.362, 3212),
    (45.366, 3180), (45.369, 3229), (45.373, 3191), (45.376, 3223), (45.380, 3180), (45.383, 3202),
    (45.388, 3169), (45.394, 3180), (45.399, 3142), (45.404, 3159), (45.409, 3126), (45.414, 3116),
    (45.420, 3094), (45.425, 3072), (45.430, 3051), (45.435, 3029), (45.440, 3013), (45.443, 3159),
    (45.446, 3083), (45.450, 3137), (45.453, 3062), (45.457, 3121), (45.460, 3072), (45.464, 3148),
    (45.467, 3089), (45.471, 3180), (45.474, 3137), (45.478, 3212), (45.481, 3169), (45.485, 3234),
    (45.488, 3191), (45.491, 3239), (45.495, 3180), (45.498, 3223), (45.502, 3169), (45.505, 3207),
    (45.509, 3148), (45.512, 3185), (45.516, 3116), (45.519, 3159), (45.523, 3094), (45.526, 3137),
    (45.530, 3072), (45.533, 3105), (45.537, 3062), (45.540, 3089), (45.544, 3040), (45.548, 3062),
    (45.552, 3024), (45.559, 3002), (45.563, 3116), (45.566, 3072), (45.570, 3116), (45.573, 3083),
    (45.577, 3126), (45.580, 3094), (45.583, 3148), (45.587, 3116), (45.591, 3164), (45.596, 3180),
    (45.600, 3185), (45.604, 3196), (45.609, 3191), (45.615, 3202), (45.622, 3207), (45.628, 3196),
    (45.635, 3180), (45.643, 3159), (45.652, 3132), (45.661, 3110), (45.669, 3083), (45.678, 3051),
    (45.685, 3019), (45.689, 3116), (45.692, 3067), (45.695, 3121), (45.699, 3062), (45.702, 3126),
    (45.706, 3072), (45.709, 3116), (45.713, 3056), (45.716, 3137), (45.720, 3169), (45.723, 3218),
    (45.727, 3180), (45.730, 3223), (45.734, 3191), (45.737, 3229), (45.741, 3196), (45.744, 3234),
    (45.747, 3202), (45.751, 3212), (45.754, 3185), (45.758, 3196), (45.761, 3169),
    (45.764, 3162), (45.766, 3187), (45.769, 3153), (45.771, 3172), (45.776, 3157), (45.778, 3143),
    (45.780, 3128), (45.782, 3118), (45.785, 3123), (45.787, 3113), (45.789, 3094), (45.791, 3103),
    (45.794, 3084), (45.796, 3069), (45.798, 3059), (45.800, 3044), (45.803, 3052), (45.805, 3034),
    (45.807, 3030), (45.810, 3020), (45.811, 3015), (45.813, 3094), (45.814, 3177), (45.815, 3064),
    (45.817, 3113), (45.819, 3084), (45.821, 3098), (45.823, 3059), (45.825, 3094), (45.828, 3128),
    (45.829, 3054), (45.831, 3135), (45.833, 3064), (45.834, 3123), (45.837, 3084), (45.839, 3069),
    (45.841, 3179), (45.844, 3113), (45.845, 3044), (45.846, 3143), (45.848, 3172), (45.850, 3103),
    (45.852, 3216), (45.854, 3108), (45.855, 3197), (45.857, 3113), (45.859, 3226), (45.861, 3133),
    (45.863, 3211), (45.864, 3153), (45.866, 3241), (45.868, 3172), (45.870, 3231), (45.872, 3138),
    (45.873, 3243), (45.875, 3133), (45.877, 3221), (45.879, 3162), (45.881, 3234), (45.883, 3143),
    (45.884, 3211), (45.886, 3153), (45.888, 3231), (45.890, 3123), (45.892, 3197), (45.893, 3113),
    (45.895, 3197), (45.897, 3133), (45.899, 3172), (45.901, 3113), (45.902, 3162), (45.904, 3113),
    (45.906, 3143), (45.908, 3084), (45.910, 3123), (45.912, 3074), (45.913, 3133), (45.915, 3084),
    (45.917, 3069), (45.919, 3094), (45.921, 3049), (45.922, 3064), (45.924, 3025), (45.926, 3044),
    (45.928, 3015), (45.929, 3003), (45.931, 3064), (45.933, 3153), (45.935, 3113), (45.937, 3054),
    (45.939, 3128), (45.941, 3064), (45.942, 3123), (45.944, 3049), (45.946, 3113), (45.948, 3084),
    (45.950, 3103), (45.951, 3069), (45.953, 3123), (45.955, 3130), (45.957, 3089), (45.959, 3103),
    (45.961, 3064), (45.962, 3094), (45.964, 3113), (45.966, 3128), (45.968, 3162), (45.971, 3157),
    (45.973, 3153), (45.975, 3162), (45.977, 3157), (45.980, 3177), (45.982, 3197), (45.984, 3199),
    (45.986, 3197), (45.989, 3202), (45.991, 3199), (45.993, 3204), (45.995, 3197), (45.998, 3199),
    (46.000, 3197), (46.002, 3194), (46.005, 3189), (46.007, 3184), (46.009, 3177), (46.011, 3170),
    (46.014, 3162), (46.016, 3157), (46.018, 3153), (46.020, 3148), (46.023, 3143), (46.025, 3133),
    (46.027, 3118), (46.029, 3113), (46.032, 3106), (46.034, 3098), (46.036, 3091), (46.039, 3084),
    (46.041, 3076), (46.043, 3064), (46.045, 3054), (46.048, 3044), (46.050, 3034), (46.052, 3027),
    (46.054, 3020), (46.056, 3017), (46.058, 3084), (46.059, 3160), (46.061, 3084), (46.063, 3128),
    (46.065, 3064), (46.067, 3118), (46.068, 3084), (46.070, 3123), (46.072, 3064), (46.074, 3108),
    (46.076, 3054), (46.078, 3128), (46.079, 3049), (46.081, 3094), (46.083, 3084), (46.085, 3133),
    (46.087, 3182), (46.088, 3064), (46.090, 3172), (46.092, 3219), (46.094, 3153), (46.096, 3197),
    (46.097, 3133), (46.099, 3187), (46.101, 3162), (46.103, 3211), (46.105, 3143), (46.107, 3192),
    (46.108, 3226), (46.110, 3162), (46.112, 3197), (46.114, 3234), (46.116, 3162), (46.117, 3206),
    (46.119, 3177), (46.121, 3211), (46.123, 3187), (46.125, 3202), (46.127, 3192), (46.129, 3197),
    (46.132, 3172), (46.134, 3187), (46.136, 3162), (46.138, 3167), (46.141, 3153), (46.143, 3162),
    (46.145, 3148), (46.147, 3133), (46.150, 3143), (46.152, 3123), (46.154, 3118), (46.156, 3113),
    (46.159, 3103), (46.161, 3094), (46.163, 3084), (46.166, 3074), (46.168, 3064), (46.170, 3054),
    (46.172, 3044), (46.175, 3034), (46.177, 3020), (46.178, 3010), (46.180, 3064), (46.182, 3182),
    (46.184, 3103), (46.185, 3049), (46.187, 3113), (46.189, 3084), (46.191, 3094), (46.193, 3064),
    (46.195, 3123), (46.196, 3133), (46.198, 3044), (46.200, 3103), (46.202, 3123), (46.204, 3133),
    (46.205, 3044), (46.207, 3094), (46.209, 3162), (46.211, 3182), (46.213, 3049), (46.214, 3138),
    (46.216, 3172), (46.218, 3103), (46.220, 3211), (46.222, 3103), (46.224, 3221), (46.225, 3113),
    (46.227, 3187), (46.229, 3123), (46.231, 3211), (46.233, 3231), (46.234, 3138), (46.236, 3246),
    (46.238, 3162), (46.240, 3236), (46.242, 3197), (46.243, 3143), (46.245, 3123), (46.247, 3231),
    (46.249, 3162), (46.251, 3211), (46.253, 3236), (46.254, 3153), (46.256, 3192), (46.258, 3133),
    (46.260, 3202), (46.262, 3113), (46.263, 3172), (46.265, 3133), (46.267, 3153), (46.269, 3113),
    (46.271, 3123), (46.273, 3172), (46.274, 3076), (46.276, 3133), (46.278, 3103), (46.280, 3143),
    (46.282, 3089), (46.283, 3103), (46.285, 3074), (46.287, 3094), (46.289, 3044), (46.291, 3084),
    (46.292, 3020), (46.294, 3064), (46.296, 3034), (46.298, 3005), (46.300, 3044), (46.302, 2985),
    (46.303, 3034), (46.305, 2966), (46.307, 3005), (46.309, 2971), (46.311, 3015), (46.312, 2985),
    (46.314, 3007), (46.316, 2939), (46.318, 2995), (46.320, 2966), (46.322, 2936), (46.323, 2975),
    (46.325, 2995), (46.327, 2931), (46.329, 2966), (46.331, 2985), (46.332, 3015), (46.334, 2975),
    (46.336, 3020), (46.338, 2985), (46.340, 3015), (46.341, 3044), (46.343, 3005), (46.345, 3034),
    (46.347, 3044), (46.349, 3034), (46.351, 3054), (46.352, 3039), (46.354, 3049), (46.356, 3059),
    (46.358, 3054), (46.360, 3064), (46.361, 3069), (46.363, 3074), (46.365, 3084), (46.366, 3113),
    (46.368, 3344), (46.369, 3261), (46.371, 3197), (46.372, 3270), (46.374, 3197), (46.376, 3275),
    (46.378, 3172), (46.380, 3236), (46.381, 3347), (46.382, 3261), (46.384, 3187), (46.386, 3162),
    (46.388, 3211), (46.390, 3123), (46.391, 3231), (46.393, 3172), (46.395, 3211), (46.397, 3258),
    (46.399, 3187), (46.400, 3153), (46.402, 3192), (46.404, 3143), (46.406, 3153), (46.408, 3103),
    (46.410, 3148), (46.411, 3094), (46.413, 3148), (46.415, 3103), (46.417, 3133), (46.419, 3064),
    (46.420, 3084), (46.422, 3015), (46.424, 3064), (46.426, 3123), (46.428, 3162), (46.429, 3138),
    (46.431, 3123), (46.433, 3103), (46.435, 3084), (46.437, 3064), (46.438, 3044), (46.440, 3064),
    (46.443, 3064), (46.446, 3094), (46.450, 3025), (46.454, 3010), (46.457, 3025), (46.461, 3103),
    (46.464, 3084), (46.468, 3064), (46.471, 3103), (46.475, 3118), (46.478, 3153), (46.482, 3172),
    (46.486, 3153), (46.489, 3177), (46.493, 3172), (46.496, 3187), (46.500, 3162), (46.503, 3143),
    (46.507, 3165), (46.510, 3157), (46.514, 3148), (46.518, 3133), (46.521, 3138), (46.525, 3138),
    (46.528, 3133), (46.532, 3103), (46.535, 3101), (46.539, 3091), (46.542, 3084), (46.546, 3069),
    (46.550, 3054), (46.553, 3039), (46.557, 3020), (46.560, 3010), (46.562, 3003), (46.564, 3044),
    (46.566, 3128), (46.568, 3039), (46.571, 3084), (46.574, 3054), (46.577, 3094), (46.579, 3064),
    (46.582, 3115), (46.584, 3059), (46.587, 3103), (46.589, 3123), (46.592, 3064), (46.595, 3128),
    (46.598, 3084), (46.602, 3170), (46.604, 3054), (46.607, 3138), (46.610, 3182), (46.613, 3089),
    (46.616, 3138), (46.619, 3182), (46.621, 3098), (46.624, 3184), (46.627, 3113), (46.630, 3162),
    (46.633, 3187), (46.636, 3108), (46.639, 3086), (46.641, 3153), (46.644, 3162), (46.647, 3084),
    (46.650, 3074), (46.653, 3143), (46.656, 3103), (46.658, 3064), (46.661, 3128), (46.664, 3064),
    (46.667, 3113), (46.670, 3054), (46.673, 3103), (46.676, 3049), (46.678, 3089), (46.681, 3044),
    (46.684, 3084), (46.687, 3039), (46.690, 3079), (46.693, 3029), (46.695, 3069), (46.698, 3020),
    (46.701, 3064), (46.704, 3025), (46.707, 3064), (46.710, 3015), (46.713, 3064), (46.715, 3020),
    (46.718, 3064), (46.721, 3020), (46.724, 3064), (46.727, 3020), (46.729, 3113), (46.730, 3170),
    (46.732, 3084), (46.735, 3074), (46.737, 3123), (46.740, 3084), (46.743, 3113), (46.746, 3098),
    (46.749, 3118), (46.752, 3084), (46.756, 3113), (46.759, 3084), (46.763, 3113), (46.769, 3084),
    (46.774, 3113), (46.779, 3113), (46.784, 3084), (46.788, 3108), (46.791, 3094), (46.795, 3103),
    (46.799, 3084), (46.802, 3074), (46.806, 3069), (46.809, 3064), (46.813, 3059), (46.819, 3064),
    (46.824, 3059), (46.829, 3079), (46.834, 3084), (46.839, 3089), (46.845, 3096), (46.850, 3091),
    (46.856, 3089), (46.863, 3079), (46.870, 3074), (46.877, 3076), (46.884, 3074), (46.891, 3076),
    (46.898, 3069), (46.905, 3061), (46.912, 3049), (46.920, 3037), (46.927, 3034), (46.934, 3032),
    (46.940, 3037), (46.942, 3044), (46.945, 3106), (46.947, 3064), (46.950, 3074), (46.952, 3039),
    (46.955, 3084), (46.958, 3054), (46.961, 3101), (46.964, 3074), (46.967, 3064), (46.969, 3084),
    (46.973, 3064), (46.976, 3084), (46.980, 3086), (46.984, 3069), (46.987, 3084), (46.991, 3074),
    (46.994, 3091), (46.998, 3069), (47.001, 3064), (47.005, 3079), (47.009, 3098), (47.012, 3074),
    (47.016, 3052), (47.019, 3064), (47.023, 3034), (47.026, 3059), (47.030, 3064), (47.033, 3044),
    (47.037, 3032), (47.041, 3049), (47.044, 3054), (47.048, 3064), (47.053, 3069), (47.058, 3076),
    (47.064, 3074), (47.069, 3079), (47.076, 3076), (47.083, 3074), (47.090, 3074), (47.097, 3071),
    (47.105, 3074), (47.112, 3071), (47.119, 3066), (47.126, 3059), (47.133, 3049), (47.140, 3044),
    (47.147, 3044), (47.154, 3049), (47.162, 3057), (47.169, 3058), (47.176, 3059), (47.183, 3058),
    (47.194, 3061), (47.204, 3064), (47.211, 3066), (47.222, 3068), (47.229, 3065), (47.236, 3057),
    (47.247, 3047), (47.255, 3043), (47.265, 3042), (47.275, 3046), (47.282, 3047), (47.293, 3048),
    (47.300, 3049), (47.311, 3055), (47.318, 3058), (47.325, 3062), (47.331, 3064), (47.338, 3059),
    (47.346, 3052), (47.354, 3049), (47.361, 3049), (47.368, 3044), (47.376, 3049), (47.386, 3047),
    (47.393, 3044), (47.400, 3039), (47.409, 3044), (47.418, 3044), (47.425, 3052), (47.432, 3057),
    (47.439, 3061), (47.446, 3060), (47.453, 3054), (47.459, 3061), (47.466, 3052), (47.473, 3057),
    (47.480, 3052), (47.489, 3052), (47.496, 3049), (47.503, 3045), (47.510, 3048), (47.517, 3044),
    (47.524, 3052), (47.532, 3054), (47.537, 3042), (47.542, 3055)]

# ------------------------------------------------------------------ styling
W, H = 2458, 1052
PL, PR, PT, PB = 97, 2287, 5, 978          # plot-area pixel box
BLUE = "#0d4c8c"
RED = "#dc0a48"
AXC = "#5e5e5e"
TICKC = "#8c8c8c"
LABC = "#595959"
NAVY = "#000080"
FONT = "Liberation Sans, Arial, sans-serif"
NOTE_FONT = "Open Sans, Noto Sans, sans-serif"


def px(x):
    return (x - PL) / (PR - PL)


def py(y):
    return (PB - y) / (PB - PT)


def unzip(pts):
    return [p[0] for p in pts], [p[1] for p in pts]


motor_osc = sorted(motor_peaks + motor_troughs)
mx, mv = unzip(motor_osc)
tx, tv = unzip(motor_tail)
dx_, dv_ = unzip(tdc_pts)
sx, sv = unzip(suction_pts)
qx, qv = unzip(discharge_pts)

fig = go.Figure()
fig.add_trace(go.Scatter(x=mx, y=mv, mode="lines", name=series_names[0], xaxis="x", yaxis="y",
                         line=dict(color=BLUE, width=1.6, shape="spline"), hoverinfo="skip"))
fig.add_trace(go.Scatter(x=tx, y=tv, mode="lines", name=series_names[0], xaxis="x", yaxis="y",
                         line=dict(color=BLUE, width=1.6), hoverinfo="skip"))
fig.add_trace(go.Scatter(x=dx_, y=dv_, mode="lines", name=series_names[1], xaxis="x", yaxis="y2",
                         line=dict(color=RED, width=1.4), hoverinfo="skip"))
# empty trace registering the (faded) left pressure axis of the lower panel
fig.add_trace(go.Scatter(x=[], y=[], mode="lines", xaxis="x2", yaxis="y3", hoverinfo="skip"))
fig.add_trace(go.Scatter(x=sx, y=sv, mode="lines", name=series_names[2], xaxis="x2", yaxis="y4",
                         line=dict(color=BLUE, width=1.6), hoverinfo="skip"))
fig.add_trace(go.Scatter(x=qx, y=qv, mode="lines", name=series_names[3], xaxis="x2", yaxis="y4",
                         line=dict(color=RED, width=1.6), hoverinfo="skip"))

xr = [44.5605, 47.540]
tickfont = dict(family=FONT, size=30, color=LABC)


def yax(**kw):
    base = dict(showgrid=False, zeroline=False, showline=True, linecolor=AXC, linewidth=2.5,
                ticks="outside", ticklen=22, tickwidth=1.6, tickcolor=TICKC, tickfont=tickfont)
    base.update(kw)
    return base


fig.update_layout(
    width=W, height=H,
    margin=dict(l=PL, r=W - PR, t=PT, b=H - PB, pad=0),
    paper_bgcolor="white", plot_bgcolor="rgba(0,0,0,0)",
    showlegend=False,
    xaxis=dict(domain=[0, 1], anchor="y", range=xr, showticklabels=False, ticks="",
               showgrid=False, zeroline=False, showline=True, mirror=True,
               linecolor=AXC, linewidth=2.5),
    xaxis2=dict(domain=[0, 1], anchor="y4", range=xr, tickvals=x_tick_vals, ticktext=x_tick_text,
                ticks="outside", ticklen=22, tickwidth=1.6, tickcolor=TICKC, tickfont=tickfont,
                ticklabelstandoff=6,
                showgrid=False, zeroline=False, showline=True, mirror=True,
                linecolor=AXC, linewidth=2.5),
    yaxis=yax(domain=[0.5, 1], anchor="x", side="left", range=[-927.7, 884.9],
              tickvals=motor_tick_vals, ticktext=[str(v) for v in motor_tick_vals],
              ticklabelstandoff=8),
    yaxis2=yax(domain=[0.5, 1], anchor="x", side="right", range=[-48.66, 7.06],
               tickvals=volt_tick_vals, ticktext=[str(v) for v in volt_tick_vals],
               ticklabelstandoff=14),
    yaxis3=yax(domain=[0, 0.5], anchor="x2", side="left", range=[-537.9, 243.0],
               tickvals=left_p_tick_vals, ticktext=[str(v) for v in left_p_tick_vals],
               ticklabelstandoff=8),
    yaxis4=yax(domain=[0, 0.5], anchor="x2", side="right", range=[2918.8, 3636.9],
               tickvals=psi_tick_vals, ticktext=[str(v) for v in psi_tick_vals],
               ticklabelstandoff=14),
)

shapes = []
# faded overlay on the left part of the chart
shapes.append(dict(type="rect", xref="paper", yref="paper", layer="above",
                   x0=px(-20), x1=px(988), y0=py(1070), y1=py(-20),
                   fillcolor="rgba(255,255,255,0.78)", line=dict(width=0)))
# legend boxes
for (x0, y0, x1, y1) in [(1928, PT, PR, 89), (1865, 491.5, PR, 577)]:
    shapes.append(dict(type="rect", xref="paper", yref="paper", layer="above",
                       x0=px(x0), x1=px(x1), y0=py(y1), y1=py(y0),
                       fillcolor="white", line=dict(color="#6e6e6e", width=2.5)))
for (x0, x1, yy, c) in [(1943, 2011, 25, BLUE), (1943, 2011, 61, RED),
                        (1880, 1948, 512, BLUE), (1880, 1948, 547, RED)]:
    shapes.append(dict(type="line", xref="paper", yref="paper", layer="above",
                       x0=px(x0), x1=px(x1), y0=py(yy), y1=py(yy),
                       line=dict(color=c, width=1.8)))
# block arrow "1"
arrow_pts = [(1391, 974), (1425, 1007), (1408, 1007), (1408, 1058), (1375, 1058),
             (1375, 1007), (1358, 1007)]
path = "M " + " L ".join(f"{px(a):.5f},{py(b):.5f}" for a, b in arrow_pts) + " Z"
shapes.append(dict(type="path", xref="paper", yref="paper", layer="above", path=path,
                   fillcolor="#5b9bd5", line=dict(color="#41719c", width=2)))
fig.update_layout(shapes=shapes)

ann = []
legend_text = [(series_names[0], 2042, 28), (series_names[1], 2042, 63),
               (series_names[2], 1980, 515), (series_names[3], 1980, 549)]
for txt, x, y in legend_text:
    ann.append(dict(text=txt, xref="paper", yref="paper", x=px(x), y=py(y),
                    xanchor="left", yanchor="middle", showarrow=False,
                    font=dict(family=FONT, size=30, color=NAVY)))
ann.append(dict(text="V", xref="paper", yref="paper", x=px(2406), y=py(22),
                xanchor="center", yanchor="middle", showarrow=False,
                font=dict(family=FONT, size=30, color=LABC)))
ann.append(dict(text="psi", xref="paper", yref="paper", x=px(2420), y=py(513),
                xanchor="left", yanchor="middle", showarrow=False,
                font=dict(family=FONT, size=30, color=LABC)))
for line, yc in zip(note_lines, [21, 87, 153, 219]):
    ann.append(dict(text=line, xref="paper", yref="paper", x=px(40), y=py(yc),
                    xanchor="left", yanchor="middle", showarrow=False,
                    font=dict(family=NOTE_FONT, size=53, color="black")))
ann.append(dict(text="1", xref="paper", yref="paper", x=px(1391), y=py(1029),
                xanchor="center", yanchor="middle", showarrow=False,
                font=dict(family=NOTE_FONT, size=36, color="white")))
fig.update_layout(annotations=ann)

fig.write_html("out.html")
